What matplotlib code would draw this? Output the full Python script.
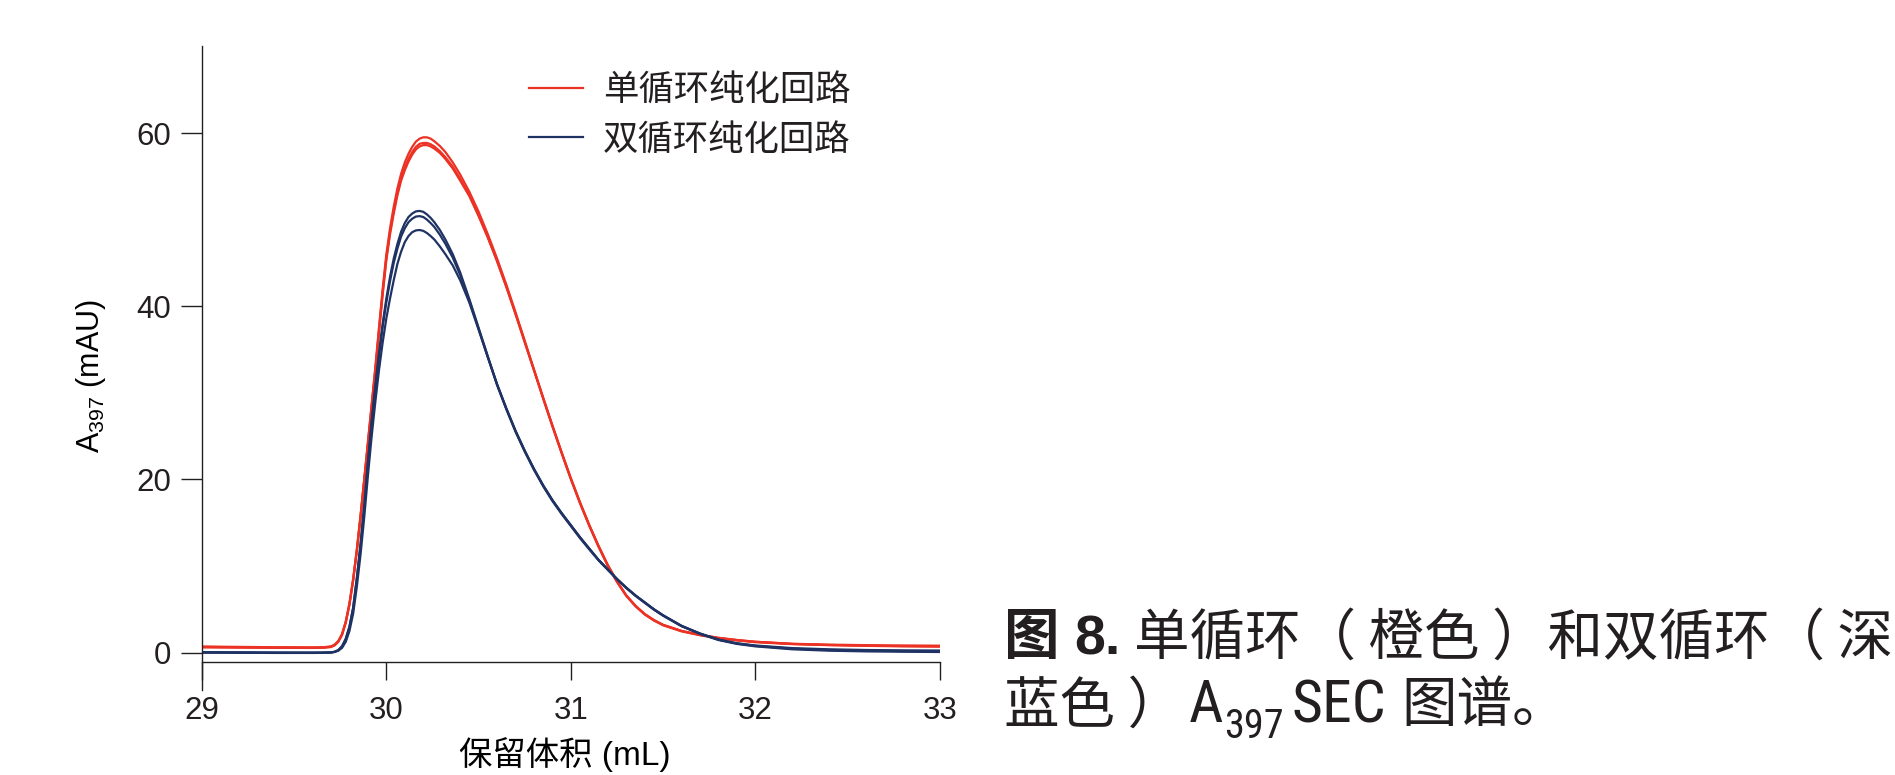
import matplotlib
matplotlib.use("Agg")
import matplotlib.pyplot as plt
from matplotlib import font_manager
from matplotlib.lines import Line2D

# ---------------------------------------------------------------------------
# Data: SEC chromatograms (A397, mAU) vs. retention volume (mL)
# ---------------------------------------------------------------------------
volume_ml = [
    29.00, 29.20, 29.40, 29.60, 29.66, 29.70, 29.72, 29.74, 29.76, 29.78,
    29.80, 29.82, 29.84, 29.86, 29.88, 29.90, 29.92, 29.94, 29.96, 29.98,
    30.00, 30.02, 30.04, 30.06, 30.08, 30.10, 30.12, 30.14, 30.16, 30.18,
    30.20, 30.22, 30.24, 30.26, 30.29, 30.32, 30.36, 30.40, 30.45, 30.50,
    30.55, 30.60, 30.65, 30.70, 30.75, 30.80, 30.85, 30.90, 30.95, 31.00,
    31.05, 31.10, 31.15, 31.20, 31.25, 31.30, 31.35, 31.40, 31.45, 31.50,
    31.60, 31.70, 31.80, 31.90, 32.00, 32.20, 32.40, 32.60, 32.80, 33.00,
]

# single-loop purification, three runs
single_run1 = [
    0.70, 0.66, 0.62, 0.60, 0.62, 0.72, 0.92, 1.35, 2.15, 3.60,
    5.70, 8.50, 11.9, 15.8, 20.0, 24.3, 28.6, 32.9, 37.5, 42.0,
    46.0, 49.0, 51.5, 53.6, 55.3, 56.6, 57.6, 58.4, 59.0, 59.35,
    59.5, 59.5, 59.35, 59.05, 58.5, 57.8, 56.6, 55.2, 53.2, 50.9,
    48.3, 45.5, 42.5, 39.3, 36.0, 32.7, 29.4, 26.2, 23.1, 20.1,
    17.3, 14.7, 12.3, 10.1, 8.2, 6.6, 5.4, 4.45, 3.75, 3.2,
    2.5, 2.05, 1.7, 1.45, 1.25, 1.02, 0.92, 0.86, 0.82, 0.80,
]
single_run2 = [
    0.66, 0.62, 0.58, 0.57, 0.59, 0.68, 0.88, 1.30, 2.10, 3.50,
    5.60, 8.40, 11.8, 15.7, 19.9, 24.1, 28.4, 32.6, 37.2, 41.6,
    45.6, 48.6, 51.0, 53.1, 54.8, 56.0, 57.0, 57.8, 58.4, 58.75,
    58.85, 58.85, 58.7, 58.45, 57.9, 57.2, 56.1, 54.7, 52.8, 50.5,
    48.0, 45.2, 42.3, 39.1, 35.9, 32.6, 29.4, 26.2, 23.1, 20.1,
    17.3, 14.7, 12.3, 10.1, 8.2, 6.6, 5.4, 4.45, 3.75, 3.2,
    2.5, 2.05, 1.7, 1.45, 1.25, 1.00, 0.88, 0.80, 0.76, 0.74,
]
single_run3 = [
    0.60, 0.57, 0.55, 0.54, 0.56, 0.64, 0.84, 1.25, 2.05, 3.45,
    5.50, 8.30, 11.7, 15.6, 19.8, 24.0, 28.2, 32.4, 36.9, 41.3,
    45.3, 48.3, 50.7, 52.8, 54.5, 55.7, 56.7, 57.5, 58.1, 58.45,
    58.6, 58.6, 58.45, 58.2, 57.7, 57.0, 55.9, 54.5, 52.7, 50.4,
    47.9, 45.2, 42.2, 39.1, 35.8, 32.6, 29.3, 26.1, 23.0, 20.0,
    17.2, 14.6, 12.2, 10.0, 8.15, 6.55, 5.35, 4.4, 3.7, 3.15,
    2.45, 2.0, 1.65, 1.40, 1.20, 0.98, 0.86, 0.78, 0.72, 0.68,
]

# dual-loop purification, three runs
dual_run1 = [
    0.02, 0.00, -0.02, -0.02, -0.01, 0.02, 0.10, 0.30, 0.75, 1.60,
    3.00, 5.20, 8.60, 12.5, 17.0, 22.0, 26.7, 30.8, 34.6, 38.0,
    40.9, 43.4, 45.5, 47.2, 48.6, 49.6, 50.3, 50.7, 50.95, 51.0,
    50.9, 50.6, 50.2, 49.7, 48.8, 47.7, 46.0, 43.9, 40.8, 37.5,
    34.2, 31.0, 28.2, 25.6, 23.3, 21.2, 19.3, 17.6, 16.1, 14.7,
    13.3, 12.0, 10.7, 9.6, 8.5, 7.5, 6.6, 5.8, 5.0, 4.3,
    3.1, 2.2, 1.5, 1.05, 0.78, 0.45, 0.30, 0.22, 0.18, 0.15,
]
dual_run2 = [
    0.00, -0.02, -0.04, -0.04, -0.03, 0.00, 0.08, 0.27, 0.70, 1.55,
    2.95, 5.10, 8.50, 12.4, 16.8, 21.8, 26.4, 30.5, 34.2, 37.6,
    40.45, 42.9, 45.0, 46.65, 48.05, 49.0, 49.7, 50.1, 50.35, 50.4,
    50.3, 50.0, 49.6, 49.15, 48.25, 47.2, 45.6, 43.6, 40.6, 37.35,
    34.1, 30.95, 28.2, 25.6, 23.3, 21.2, 19.3, 17.6, 16.1, 14.7,
    13.3, 12.0, 10.7, 9.6, 8.5, 7.5, 6.6, 5.8, 5.0, 4.3,
    3.05, 2.15, 1.45, 1.0, 0.72, 0.38, 0.22, 0.14, 0.10, 0.07,
]
dual_run3 = [
    0.05, 0.03, 0.01, 0.00, 0.01, 0.03, 0.08, 0.22, 0.55, 1.25,
    2.50, 4.50, 7.60, 11.3, 15.6, 20.4, 24.9, 28.9, 32.6, 35.8,
    38.6, 40.9, 43.0, 44.9, 46.3, 47.4, 48.1, 48.55, 48.75, 48.8,
    48.7, 48.45, 48.1, 47.7, 46.9, 46.0, 44.7, 43.0, 40.4, 37.3,
    34.1, 30.9, 28.1, 25.5, 23.2, 21.1, 19.2, 17.5, 16.0, 14.6,
    13.2, 11.9, 10.65, 9.55, 8.45, 7.45, 6.55, 5.75, 4.95, 4.25,
    3.05, 2.2, 1.5, 1.08, 0.82, 0.52, 0.38, 0.30, 0.26, 0.24,
]

series_labels = ["单循环纯化回路", "双循环纯化回路"]
x_ticks = [29, 30, 31, 32, 33]
y_ticks = [0, 20, 40, 60]
x_label = "保留体积 (mL)"
y_label = r"A$_{397}$ (mAU)"

# ---------------------------------------------------------------------------
# Styling
# ---------------------------------------------------------------------------
W, H, DPI = 1895, 775, 100
RED = "#EC3224"
NAVY = "#1E3264"
INK = "#231F20"
LW = 1.6

installed = {f.name for f in font_manager.fontManager.ttflist}
LATIN = "Liberation Sans"
CJK = "Noto Sans CJK SC"

# a condensed face for the Latin parts of the caption, if one is present
NARROW = None
for cand in ("Liberation Sans Narrow", "Arial Narrow", "Nimbus Sans Narrow",
             "Roboto Condensed", "Open Sans Condensed",
             "DejaVu Sans Condensed"):
    if cand in installed:
        NARROW = cand
        break
if NARROW is None:
    NARROW, LAT_CAP, LAT_SUB = LATIN, 36, 25
else:
    LAT_CAP, LAT_SUB = 43, 29

plt.rcParams.update({
    "font.family": [LATIN, CJK],
    "mathtext.fontset": "custom",
    "mathtext.rm": LATIN,
    "mathtext.it": LATIN + ":italic",
    "mathtext.bf": LATIN + ":bold",
    "text.color": INK,
    "axes.edgecolor": INK,
    "xtick.color": INK,
    "ytick.color": INK,
})


def fx(px):
    return px / W


def fy(py):
    return 1 - py / H


fig = plt.figure(figsize=(W / DPI, H / DPI), dpi=DPI)

# axes frame: x 29..33 spans 201.8..940 px, y -1.12..70 spans 662.3..46.4 px
ax_left, ax_right, ax_top, ax_bottom = 201.8, 940.0, 46.4, 662.3
ax = fig.add_axes([fx(ax_left), fy(ax_bottom),
                   (ax_right - ax_left) / W, (ax_bottom - ax_top) / H])

for ys in (single_run1, single_run2, single_run3):
    ax.plot(volume_ml, ys, color=RED, lw=LW, solid_capstyle="round",
            solid_joinstyle="round")
for ys in (dual_run1, dual_run2, dual_run3):
    ax.plot(volume_ml, ys, color=NAVY, lw=LW, solid_capstyle="round",
            solid_joinstyle="round")

ax.set_xlim(29, 33)
ax.set_ylim(-1.12, 70)
ax.set_xticks(x_ticks)
ax.set_yticks(y_ticks)
ax.spines["top"].set_visible(False)
ax.spines["right"].set_visible(False)
for s in ("left", "bottom"):
    ax.spines[s].set_linewidth(1.0)
ax.spines["left"].set_bounds(-4.32, 70)

ax.tick_params(axis="y", length=14.8, width=1.0, pad=7.2, labelsize=22.5)
ax.tick_params(axis="x", length=12.6, width=1.0, pad=12, labelsize=22.5)

ax.set_xlabel(x_label, fontsize=24, family=[LATIN, CJK])
ax.xaxis.set_label_coords((565 - ax_left) / (ax_right - ax_left),
                          (ax_bottom - 764.5) / (ax_bottom - ax_top))
ax.xaxis.label.set_verticalalignment("baseline")

ax.set_ylabel(y_label, fontsize=22)
ax.yaxis.set_label_coords((99.3 - ax_left) / (ax_right - ax_left),
                          (ax_bottom - 375.6) / (ax_bottom - ax_top))
ax.yaxis.label.set_verticalalignment("baseline")

# legend
leg_size = 25.5
for label, color, ly in ((series_labels[0], RED, 87.7),
                         (series_labels[1], NAVY, 137.3)):
    fig.add_artist(Line2D([fx(529), fx(583)], [fy(ly), fy(ly)], color=color,
                          lw=LW, transform=fig.transFigure))
    fig.text(fx(603), fy(ly + 0.38 * leg_size * DPI / 72), label,
             fontsize=leg_size, family=[CJK], ha="left", va="baseline")

# figure caption
cap = 40
base1 = 654.3
base2 = 722.3
fig.text(fx(1004), fy(base1), "图", family=[CJK], weight="bold", fontsize=cap,
         va="baseline")
fig.text(fx(1074), fy(base1), "8.", family=[LATIN], weight="bold",
         fontsize=cap, va="baseline")
fig.text(fx(1134), fy(base1), "单循环（ 橙色 ）和双循环（ 深", family=[CJK],
         fontsize=cap, va="baseline")
fig.text(fx(1004), fy(base2), "蓝色 ）", family=[CJK], fontsize=cap,
         va="baseline")
fig.text(fx(1189), fy(base2), "A", family=[NARROW], fontsize=LAT_CAP,
         va="baseline")
fig.text(fx(1224), fy(base2 + 16), "397", family=[NARROW], fontsize=LAT_SUB,
         va="baseline")
fig.text(fx(1291), fy(base2), "SEC", family=[NARROW], fontsize=LAT_CAP,
         va="baseline")
fig.text(fx(1401), fy(base2), "图谱。", family=[CJK], fontsize=cap,
         va="baseline")

fig.savefig("out.png", dpi=DPI)
